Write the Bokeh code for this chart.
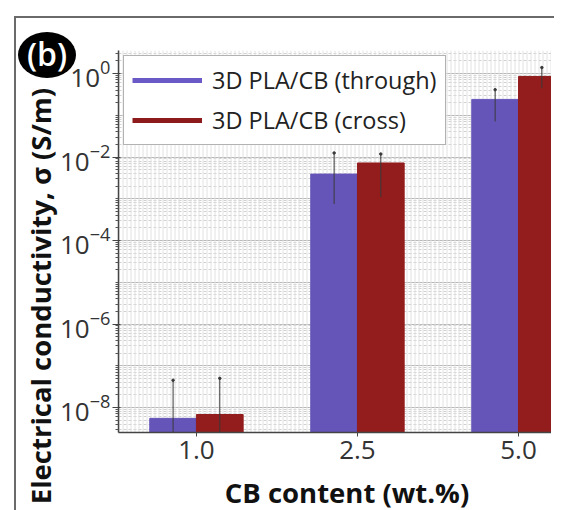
import numpy as np
from bokeh.plotting import figure
from bokeh.layouts import column
from bokeh.models import (Range1d, FixedTicker, LogTickFormatter, Legend, LegendItem,
                          BoxAnnotation, ColumnDataSource, Div)
from bokeh.embed import file_html
from bokeh.resources import INLINE

# ---- data ----
categories = ["1.0", "2.5", "5.0"]
series_names = ["3D PLA/CB (through)", "3D PLA/CB (cross)"]
through_values = [5.5e-9, 3.9e-3, 0.24]
through_err_low = [1e-10, 7.5e-4, 0.071]
through_err_high = [4.5e-8, 1.25e-2, 0.41]
cross_values = [6.8e-9, 7.2e-3, 0.85]
cross_err_low = [1e-10, 1.1e-3, 0.44]
cross_err_high = [5.0e-8, 1.18e-2, 1.39]
y_label_exponents = [-8, -6, -4, -2, 0]
x_title = "CB content (wt.%)"
y_title = "Electrical conductivity, σ (S/m)"
panel_tag = "(b)"

# ---- styles ----
FONT = "Open Sans"
BLUE = "#6655b9"
RED = "#931c1c"
BAR_W = 0.29

centers = np.arange(len(categories)) + 0.5
x_through = centers - BAR_W / 2
x_cross = centers + BAR_W / 2

src_t = ColumnDataSource(dict(x=x_through, top=through_values, lo=through_err_low, hi=through_err_high))
src_c = ColumnDataSource(dict(x=x_cross, top=cross_values, lo=cross_err_low, hi=cross_err_high))

p = figure(width=551, height=506, y_axis_type="log",
           x_range=Range1d(0.016, 2.705), y_range=Range1d(2.52e-9, 3.56),
           output_backend="svg", toolbar_location=None,
           min_border_left=118, min_border_right=0, min_border_top=50, min_border_bottom=74)
p.outline_line_color = None
p.background_fill_color = "white"
p.border_fill_color = "white"
p.border_fill_alpha = 0

# dense vertical texture in the frame
p.add_layout(BoxAnnotation(fill_alpha=0, line_alpha=0, hatch_pattern="vertical_line",
                           hatch_color="#e2e2e2", hatch_scale=4, hatch_weight=1, level="underlay"))

# grids
decades = [10.0 ** e for e in range(-9, 1)]
minors = [m * d for d in decades for m in range(2, 10)]
p.xgrid.grid_line_color = None
p.ygrid.ticker = FixedTicker(ticks=decades, minor_ticks=minors)
p.ygrid.grid_line_color = "#b8b8b8"
p.ygrid.grid_line_width = 1.2
p.ygrid.minor_grid_line_color = "#d0d0d0"
p.ygrid.minor_grid_line_dash = "3 2"

# bars
bottom_val = 1e-10
p.vbar(x="x", top="top", bottom=bottom_val, width=BAR_W, source=src_t,
       fill_color=BLUE, line_color=BLUE)
p.vbar(x="x", top="top", bottom=bottom_val, width=BAR_W, source=src_c,
       fill_color=RED, line_color=RED)
# error bars
for s in (src_t, src_c):
    p.segment(x0="x", y0="lo", x1="x", y1="hi", source=s, line_color="#3a3a3a", line_width=1)
    p.scatter(x="x", y="hi", source=s, size=2.5, color="#3a3a3a")

# legend (line glyphs, placeholder renderers with no visible points)
l1 = p.line(x=[np.nan], y=[np.nan], line_color="#6a5ac8", line_width=5)
l2 = p.line(x=[np.nan], y=[np.nan], line_color="#8e1b1b", line_width=5)
legend = Legend(items=[LegendItem(label=series_names[0], renderers=[l1]),
                       LegendItem(label=series_names[1], renderers=[l2])],
                location="top_left", margin=5, padding=8, spacing=8,
                glyph_width=70, glyph_height=30, label_height=30, label_standoff=10,
                label_text_font=FONT, label_text_font_size="23.5px", label_text_color="#222",
                border_line_color="#666", border_line_width=1, background_fill_alpha=1)
p.add_layout(legend)

# axes
label_ticks = [10.0 ** e for e in y_label_exponents]
y_minor = [t for t in decades + minors if t not in label_ticks]
ya = p.yaxis[0]
ya.ticker = FixedTicker(ticks=label_ticks, minor_ticks=y_minor)
ya.formatter = LogTickFormatter()
ya.major_tick_out = 6
ya.major_tick_in = 2
ya.minor_tick_out = 3
ya.minor_tick_in = 0
ya.major_label_standoff = 2
ya.major_label_text_font = FONT
ya.major_label_text_font_size = "26px"
ya.major_label_text_color = "#333"

xa = p.xaxis[0]
xa.ticker = FixedTicker(ticks=list(centers))
xa.major_label_overrides = {float(c): lab for c, lab in zip(centers, categories)}
xa.major_tick_out = 4
xa.major_tick_in = 0
xa.minor_tick_out = 0
xa.major_label_standoff = 4
xa.major_label_text_font = FONT
xa.major_label_text_font_size = "26px"
xa.major_label_text_color = "#333"

for ax in (xa, ya):
    ax.axis_line_color = "#444"
    ax.axis_line_width = 1.5
    ax.major_tick_line_color = "#444"
    ax.minor_tick_line_color = "#555"

# axis titles, outer figure frame (top/left edges) and the round panel tag
title_style = {"font-family": FONT, "font-weight": "bold",
               "color": "#111", "text-align": "center", "white-space": "nowrap"}
x_title_div = Div(text=x_title, width=320, height=30,
                  styles=dict(title_style, **{"position": "absolute", "left": "182px",
                                              "top": "473px", "line-height": "30px",
                                              "font-size": "27.5px"}))
y_title_div = Div(text=y_title, width=440, height=34,
                  styles=dict(title_style, **{"position": "absolute", "left": "-184px",
                                              "top": "274px", "line-height": "34px",
                                              "font-size": "27.5px",
                                              "transform": "rotate(-90deg)",
                                              "transform-origin": "50% 50%"}))
frame_div = Div(text="", width=540, height=495,
                styles={"position": "absolute", "left": "9px", "top": "11px",
                        "border-top": "2px solid #6a6a6a", "border-left": "2px solid #6a6a6a",
                        "pointer-events": "none"})
tag_div = Div(text=panel_tag, width=58, height=46,
              styles={"position": "absolute", "left": "13px", "top": "27px",
                      "background-color": "black", "color": "white", "border-radius": "50%",
                      "font-family": FONT, "font-size": "32px", "font-weight": "600",
                      "line-height": "44px", "text-align": "center"})
layout = column(p, frame_div, x_title_div, y_title_div, tag_div)

open("out.html", "w").write(file_html(layout, INLINE))
